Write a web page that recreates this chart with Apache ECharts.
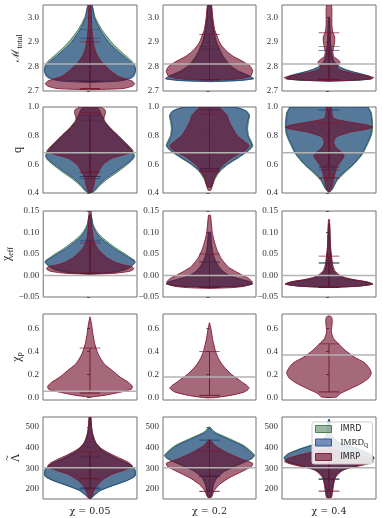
<!DOCTYPE html>
<html><head><meta charset="utf-8">
<script src="https://cdn.jsdelivr.net/npm/echarts@6/dist/echarts.min.js"></script>
<style>html,body{margin:0;padding:0;background:#fff}#c{width:382px;height:518px}</style>
</head><body><div id="c"></div><script>
// ---------- DATA ----------
const columns = ['χ = 0.05', 'χ = 0.2', 'χ = 0.4'];
const modelNames = ['IMRD', 'IMRD_Q', 'IMRP'];

const mtotTicks = [2.7, 2.8, 2.9, 3.0];
const qTicks = [0.4, 0.6, 0.8, 1.0];
const ceTicks = [-0.05, 0, 0.05, 0.10, 0.15];
const cpTicks = [0.0, 0.2, 0.4, 0.6];
const lamTicks = [200, 300, 400, 500];

const mtotInj = [2.81, 2.81, 2.81];
const qInj = [0.68, 0.68, 0.68];
const ceInj = [0.0, 0.0, 0.0];
const cpInj = [0.055, 0.18, 0.37];
const lamInj = [303, 303, 303];

// violin profiles: [value, relative half-width], one list per column
const mtotIMRD = [
  [[2.738,0],[2.745,0.6],[2.75,0.8],[2.76,0.9],[2.78,0.96],[2.8,0.96],[2.82,0.9],[2.85,0.72],[2.88,0.55],[2.9,0.45],[2.95,0.25],[3.0,0.11],[3.05,0.04]],
  [[2.74,0],[2.743,0.6],[2.75,0.93],[2.76,0.88],[2.78,0.64],[2.8,0.48],[2.82,0.38],[2.85,0.27],[2.9,0.15],[2.95,0.09],[3.0,0.05],[3.05,0.03]],
  [[2.74,0],[2.744,0.6],[2.75,0.9],[2.76,0.86],[2.77,0.68],[2.78,0.48],[2.79,0.32],[2.8,0.22],[2.82,0.11],[2.85,0.06],[2.9,0.03],[2.95,0.02],[3.0,0.01]]
];
const mtotIMRDQ = [
  [[2.735,0],[2.74,0.6],[2.75,0.85],[2.76,0.93],[2.78,0.97],[2.8,0.95],[2.82,0.85],[2.85,0.66],[2.88,0.49],[2.9,0.39],[2.95,0.21],[3.0,0.09],[3.05,0.04]],
  [[2.738,0],[2.742,0.6],[2.75,0.95],[2.76,0.86],[2.78,0.6],[2.8,0.45],[2.82,0.35],[2.85,0.25],[2.9,0.14],[2.95,0.08],[3.0,0.05],[3.05,0.03]],
  [[2.74,0],[2.744,0.6],[2.75,0.9],[2.76,0.85],[2.77,0.65],[2.78,0.45],[2.79,0.3],[2.8,0.2],[2.82,0.1],[2.85,0.05],[2.9,0.03],[2.95,0.02],[3.0,0.01]]
];
const mtotIMRP = [
  [[2.705,0],[2.71,0.7],[2.72,0.9],[2.73,0.95],[2.74,0.9],[2.75,0.75],[2.76,0.6],[2.78,0.45],[2.8,0.34],[2.82,0.24],[2.85,0.14],[2.88,0.09],[2.9,0.07],[2.95,0.04],[3.0,0.03],[3.05,0.02]],
  [[2.744,0],[2.748,0.55],[2.755,0.8],[2.76,0.88],[2.78,0.93],[2.8,0.88],[2.82,0.72],[2.84,0.52],[2.86,0.38],[2.88,0.28],[2.9,0.21],[2.93,0.15],[2.95,0.11],[3.0,0.07],[3.05,0.04]],
  [[2.742,0],[2.745,0.6],[2.75,0.92],[2.755,0.95],[2.76,0.85],[2.77,0.55],[2.78,0.32],[2.79,0.2],[2.8,0.18],[2.81,0.22],[2.82,0.23],[2.83,0.17],[2.84,0.1],[2.86,0.08],[2.88,0.1],[2.9,0.12],[2.92,0.12],[2.94,0.08],[2.97,0.06],[3.0,0.06],[3.05,0.05]]
];
const qIMRD = [
  [[0.4,0.03],[0.42,0.12],[0.45,0.2],[0.5,0.38],[0.55,0.6],[0.6,0.8],[0.63,0.9],[0.66,0.95],[0.7,0.88],[0.75,0.75],[0.8,0.6],[0.85,0.44],[0.9,0.32],[0.95,0.24],[0.98,0.2],[1.0,0.14]],
  [[0.44,0.04],[0.5,0.12],[0.55,0.22],[0.6,0.4],[0.65,0.64],[0.7,0.86],[0.73,0.93],[0.76,0.9],[0.8,0.84],[0.85,0.82],[0.9,0.84],[0.94,0.86],[0.97,0.8],[0.99,0.66],[1.0,0.5]],
  [[0.41,0.02],[0.43,0.08],[0.49,0.18],[0.54,0.33],[0.6,0.53],[0.67,0.71],[0.74,0.82],[0.81,0.91],[0.88,0.93],[0.96,0.9],[0.99,0.85],[1.0,0.8]]
];
const qIMRDQ = [
  [[0.4,0.02],[0.42,0.1],[0.45,0.17],[0.5,0.33],[0.55,0.55],[0.6,0.76],[0.63,0.88],[0.66,0.93],[0.7,0.86],[0.75,0.73],[0.8,0.58],[0.85,0.42],[0.9,0.3],[0.95,0.22],[0.98,0.18],[1.0,0.12]],
  [[0.45,0.05],[0.5,0.1],[0.55,0.2],[0.6,0.38],[0.65,0.62],[0.7,0.85],[0.73,0.92],[0.76,0.88],[0.8,0.82],[0.85,0.8],[0.9,0.82],[0.94,0.85],[0.97,0.8],[0.99,0.65],[1.0,0.5]],
  [[0.41,0.02],[0.43,0.07],[0.49,0.16],[0.54,0.3],[0.6,0.51],[0.67,0.69],[0.74,0.8],[0.81,0.89],[0.885,0.91],[0.957,0.89],[0.98,0.86],[1.0,0.83]]
];
const qIMRP = [
  [[0.4,0.02],[0.42,0.05],[0.45,0.08],[0.5,0.11],[0.55,0.18],[0.6,0.28],[0.64,0.45],[0.67,0.75],[0.69,0.92],[0.72,0.85],[0.76,0.72],[0.8,0.6],[0.84,0.47],[0.87,0.38],[0.9,0.3],[0.93,0.3],[0.96,0.33],[0.98,0.32],[0.995,0.25],[1.0,0.2]],
  [[0.42,0.03],[0.45,0.06],[0.5,0.1],[0.55,0.18],[0.6,0.3],[0.65,0.5],[0.7,0.78],[0.73,0.85],[0.76,0.75],[0.8,0.6],[0.85,0.5],[0.9,0.42],[0.94,0.38],[0.97,0.3],[1.0,0.2]],
  [[0.41,0.02],[0.44,0.06],[0.5,0.1],[0.55,0.14],[0.585,0.17],[0.62,0.25],[0.657,0.32],[0.68,0.28],[0.717,0.15],[0.753,0.1],[0.79,0.15],[0.825,0.45],[0.845,0.8],[0.86,0.93],[0.875,0.8],[0.897,0.4],[0.92,0.1],[0.957,0.06],[1.0,0.05]]
];
const ceIMRD = [
  [[0.003,0],[0.008,0.55],[0.015,0.8],[0.025,0.92],[0.03,0.96],[0.035,0.95],[0.04,0.88],[0.05,0.75],[0.06,0.6],[0.07,0.47],[0.08,0.35],[0.09,0.24],[0.1,0.16],[0.11,0.1],[0.12,0.06],[0.14,0.02]],
  [[-0.027,0],[-0.025,0.6],[-0.02,0.93],[-0.015,0.88],[-0.01,0.72],[-0.005,0.56],[0.0,0.43],[0.01,0.29],[0.02,0.21],[0.03,0.15],[0.04,0.11],[0.05,0.08],[0.06,0.06],[0.08,0.04],[0.1,0.02]],
  [[-0.027,0],[-0.025,0.6],[-0.02,0.93],[-0.015,0.8],[-0.01,0.5],[-0.005,0.3],[0.0,0.2],[0.01,0.1],[0.02,0.07],[0.04,0.05],[0.06,0.03],[0.09,0.02],[0.12,0.01]]
];
const ceIMRDQ = [
  [[0.003,0],[0.008,0.5],[0.015,0.75],[0.025,0.9],[0.03,0.95],[0.035,0.93],[0.04,0.85],[0.05,0.7],[0.06,0.55],[0.07,0.42],[0.08,0.3],[0.09,0.2],[0.1,0.13],[0.11,0.08],[0.12,0.05],[0.14,0.02]],
  [[-0.027,0],[-0.025,0.6],[-0.02,0.92],[-0.015,0.86],[-0.01,0.7],[-0.005,0.54],[0.0,0.41],[0.01,0.27],[0.02,0.19],[0.03,0.14],[0.04,0.1],[0.05,0.07],[0.06,0.05],[0.08,0.03],[0.1,0.02]],
  [[-0.027,0],[-0.025,0.6],[-0.02,0.92],[-0.015,0.78],[-0.01,0.48],[-0.005,0.28],[0.0,0.18],[0.01,0.09],[0.02,0.06],[0.04,0.04],[0.06,0.03],[0.09,0.02],[0.12,0.01]]
];
const ceIMRP = [
  [[0.003,0],[0.005,0.5],[0.01,0.85],[0.015,0.93],[0.02,0.9],[0.025,0.7],[0.03,0.55],[0.04,0.38],[0.05,0.27],[0.06,0.18],[0.07,0.12],[0.08,0.08],[0.09,0.06],[0.1,0.05],[0.12,0.03],[0.15,0.02]],
  [[-0.03,0],[-0.028,0.5],[-0.025,0.75],[-0.02,0.9],[-0.015,0.92],[-0.01,0.88],[-0.005,0.82],[0.0,0.72],[0.01,0.55],[0.02,0.4],[0.03,0.32],[0.04,0.25],[0.05,0.2],[0.06,0.16],[0.07,0.13],[0.08,0.1],[0.1,0.06],[0.12,0.04],[0.14,0.02]],
  [[-0.028,0],[-0.025,0.6],[-0.02,0.93],[-0.015,0.82],[-0.01,0.55],[-0.005,0.35],[0.0,0.24],[0.01,0.13],[0.02,0.09],[0.03,0.07],[0.05,0.05],[0.07,0.03],[0.1,0.02],[0.13,0.01]]
];
const cpIMRP = [
  [[0.003,0],[0.01,0.1],[0.02,0.3],[0.044,0.6],[0.073,0.88],[0.1,0.9],[0.132,0.82],[0.176,0.65],[0.234,0.48],[0.293,0.3],[0.38,0.17],[0.468,0.1],[0.556,0.06],[0.644,0.03],[0.7,0.0]],
  [[0.0,0.1],[0.02,0.45],[0.05,0.75],[0.08,0.85],[0.1,0.82],[0.15,0.65],[0.2,0.48],[0.25,0.35],[0.3,0.25],[0.35,0.18],[0.4,0.13],[0.45,0.1],[0.5,0.07],[0.55,0.05],[0.6,0.03],[0.65,0.0]],
  [[0.005,0.15],[0.038,0.25],[0.077,0.45],[0.127,0.7],[0.172,0.85],[0.216,0.9],[0.26,0.85],[0.305,0.75],[0.349,0.55],[0.408,0.35],[0.467,0.2],[0.51,0.1],[0.57,0.05],[0.62,0.06],[0.67,0.07],[0.7,0.05],[0.71,0]]
];
const lamIMRD = [
  [[155,0.02],[169,0.09],[192,0.22],[215,0.47],[239,0.77],[262,0.96],[293,0.96],[317,0.86],[348,0.57],[379,0.32],[410,0.16],[441,0.09],[472,0.05],[520,0.02],[545,0.01]],
  [[165,0.04],[177,0.05],[223,0.09],[254,0.16],[285,0.32],[317,0.63],[348,0.92],[363,0.97],[379,0.91],[410,0.74],[441,0.45],[472,0.14],[490,0.05],[500,0.01]],
  [[160,0.05],[177,0.05],[223,0.09],[270,0.16],[293,0.32],[317,0.67],[332,0.9],[351,0.96],[371,0.87],[394,0.62],[425,0.22],[460,0.06],[500,0.03],[535,0.01]]
];
const lamIMRDQ = [
  [[155,0.02],[169,0.08],[192,0.2],[215,0.45],[239,0.75],[262,0.95],[293,0.95],[317,0.85],[348,0.55],[379,0.3],[410,0.15],[441,0.08],[472,0.04],[520,0.02],[545,0.01]],
  [[160,0.03],[177,0.04],[223,0.08],[254,0.15],[285,0.3],[317,0.6],[348,0.9],[363,0.95],[379,0.88],[410,0.7],[441,0.4],[472,0.1],[485,0.04],[495,0.01]],
  [[160,0.04],[177,0.04],[223,0.08],[270,0.15],[293,0.3],[317,0.65],[332,0.88],[351,0.95],[371,0.85],[394,0.6],[425,0.2],[460,0.05],[500,0.03],[535,0.01]]
];
const lamIMRP = [
  [[155,0.01],[161,0.03],[177,0.06],[208,0.12],[239,0.24],[270,0.45],[293,0.75],[309,0.9],[324,0.85],[340,0.72],[363,0.5],[394,0.25],[425,0.12],[472,0.05],[510,0.03],[548,0.02]],
  [[161,0.04],[192,0.1],[223,0.22],[254,0.42],[285,0.7],[309,0.9],[324,0.93],[332,0.85],[348,0.65],[379,0.35],[410,0.12],[433,0.03],[440,0]],
  [[160,0.05],[192,0.08],[223,0.1],[254,0.13],[293,0.3],[317,0.75],[332,0.94],[345,0.9],[360,0.7],[371,0.5],[386,0.2],[395,0.05],[400,0]]
];

// credible-interval bars [low, high], one per column
const mtotBarsIMRD = [[2.74,2.95],[2.746,2.881],[2.747,2.881]];
const mtotBarsIMRDQ = [[2.74,2.915],[2.746,2.87],[2.747,2.865]];
const mtotBarsIMRP = [[2.71,2.9],[2.746,2.93],[2.747,2.937]];
const qBarsIMRD = [[0.5,0.907],[0.56,0.98],[0.561,0.98]];
const qBarsIMRDQ = [[0.515,0.94],[0.57,0.98],[0.582,0.978]];
const qBarsIMRP = [[0.545,0.96],[0.55,0.95],[0.505,0.888]];
const ceBarsIMRD = [[0.005,0.082],[-0.027,0.03],[-0.027,0.028]];
const ceBarsIMRDQ = [[0.005,0.08],[-0.027,0.032],[-0.027,0.03]];
const ceBarsIMRP = [[0.005,0.075],[-0.028,0.05],[-0.028,0.045]];
const cpBarsIMRP = [[0.04,0.43],[0.02,0.4],[0.05,0.467]];
const lamBarsIMRD = [[200,360],[262,438],[248,380]];
const lamBarsIMRDQ = [[205,355],[262,435],[248,375]];
const lamBarsIMRP = [[250,380],[189,382],[190,360]];

// ---------- LAYOUT / STYLE ----------
const SERIF = "'Liberation Serif','DejaVu Serif',serif";
const colLeft = [43, 163, 282], colWidth = [94, 93, 94];
const rowTop = [5, 107, 211, 314, 417], rowHeight = 86;
const styles = [
  {fill:'rgba(55,113,65,0.5)', stroke:'rgba(55,113,65,0.85)', line:'rgba(45,95,55,0.9)'},
  {fill:'rgba(40,80,150,0.6)', stroke:'rgba(35,75,135,0.9)', line:'rgba(25,55,100,0.9)'},
  {fill:'rgba(105,5,35,0.6)', stroke:'rgba(130,20,45,0.9)', line:'rgba(110,20,40,0.9)'}
];
const nameRich = {
  m:{fontFamily:SERIF, fontSize:12, color:'#222', lineHeight:15},
  c:{fontFamily:"'DejaVu Serif',serif", fontSize:11, color:'#222', lineHeight:15},
  s:{fontFamily:SERIF, fontSize:8, color:'#222', verticalAlign:'bottom'},
  t:{fontFamily:SERIF, fontSize:10, color:'#222', lineHeight:5, align:'center'},
  L:{fontFamily:SERIF, fontSize:12, color:'#222', lineHeight:12, align:'center'}
};
const rows = [
  {name:'{c|ℳ}{s|total}', min:2.7, max:3.05, ticks:mtotTicks, dec:1, inj:mtotInj,
   shapes:[mtotIMRD, mtotIMRDQ, mtotIMRP], bars:[mtotBarsIMRD, mtotBarsIMRDQ, mtotBarsIMRP]},
  {name:'{m|q}', min:0.4, max:1.0, ticks:qTicks, dec:1, inj:qInj,
   shapes:[qIMRD, qIMRDQ, qIMRP], bars:[qBarsIMRD, qBarsIMRDQ, qBarsIMRP]},
  {name:'{m|χ}{s|eff}', min:-0.05, max:0.15, ticks:ceTicks, dec:2, inj:ceInj,
   shapes:[ceIMRD, ceIMRDQ, ceIMRP], bars:[ceBarsIMRD, ceBarsIMRDQ, ceBarsIMRP]},
  {name:'{m|χ}{s|p}', min:-0.02, max:0.725, ticks:cpTicks, dec:1, inj:cpInj,
   shapes:[null, null, cpIMRP], bars:[null, null, cpBarsIMRP]},
  {name:'{t|~}\n{L|Λ}', min:152, max:548, ticks:lamTicks, dec:0, inj:lamInj,
   shapes:[lamIMRD, lamIMRDQ, lamIMRP], bars:[lamBarsIMRD, lamBarsIMRDQ, lamBarsIMRP]}
];

function fmt(dec){ return v => (v < -1e-9 ? '\u2212' : '') + Math.abs(v).toFixed(dec); }

function violinRenderer(shape, bar, st) {
  return function(params, api) {
    if (params.dataIndex !== 0) return null;
    const left = shape.map(p => api.coord([-p[1], p[0]]));
    const right = shape.slice().reverse().map(p => api.coord([p[1], p[0]]));
    const children = [{
      type:'polygon', shape:{points:left.concat(right), smooth:0.2},
      style:{fill:st.fill, stroke:st.stroke, lineWidth:1}
    }];
    const a = api.coord([0, bar[0]]), b = api.coord([0, bar[1]]);
    const bw = api.coord([0.22, bar[0]])[0] - a[0];
    const ls = {stroke:st.line, lineWidth:1};
    children.push({type:'line', shape:{x1:a[0], y1:a[1], x2:b[0], y2:b[1]}, style:ls});
    children.push({type:'line', shape:{x1:a[0]-bw, y1:a[1], x2:a[0]+bw, y2:a[1]}, style:ls});
    children.push({type:'line', shape:{x1:b[0]-bw, y1:b[1], x2:b[0]+bw, y2:b[1]}, style:{stroke:st.stroke, lineWidth:1, opacity:0.75}});
    return {type:'group', children};
  };
}

const grid = [], xAxis = [], yAxis = [], series = [];
rows.forEach((row, r) => {
  for (let c = 0; c < 3; c++) {
    const i = r * 3 + c;
    grid.push({left:colLeft[c], top:rowTop[r], width:colWidth[c], height:rowHeight,
      show:true, borderColor:'#707070', borderWidth:1, backgroundColor:'transparent'});
    const bottom = r === rows.length - 1;
    xAxis.push({gridIndex:i, type:'value', min:-1, max:1, show:bottom,
      axisLine:{show:false}, axisTick:{show:false}, axisLabel:{show:false}, splitLine:{show:false},
      name: bottom ? columns[c] : '', nameLocation:'middle', nameGap:8,
      nameTextStyle:{fontFamily:"'DejaVu Serif',serif", fontSize:9.5, color:'#222'}});
    yAxis.push({gridIndex:i, type:'value', min:row.min, max:row.max,
      axisLine:{show:false}, splitLine:{show:false},
      axisTick:{show:true, length:3, customValues:row.ticks, lineStyle:{color:'#555'}},
      axisLabel:{customValues:row.ticks, formatter:fmt(row.dec), fontFamily:SERIF, fontSize:9, color:'#333', margin:4},
      name: c === 0 ? row.name : '', nameLocation:'middle', nameRotate:90, nameGap:17,
      nameTextStyle:{rich:nameRich}});
    for (let m = 0; m < 3; m++) {
      const shape = row.shapes[m] && row.shapes[m][c];
      if (!shape) continue;
      const bar = row.bars[m][c];
      series.push({type:'custom', name:modelNames[m], xAxisIndex:i, yAxisIndex:i,
        clip:true, z:2 + m * 0.01, silent:true,
        itemStyle:{color:styles[m].fill},
        renderItem:violinRenderer(shape, bar, styles[m]),
        data:shape.map(p => [p[1], p[0]])});
    }
    series.push({type:'line', xAxisIndex:i, yAxisIndex:i, silent:true, showSymbol:false, z:5,
      lineStyle:{color:'#b3b3b3', width:1.5},
      data:[[-1, row.inj[c]], [1, row.inj[c]]]});
  }
});

const chart = echarts.init(document.getElementById('c'), null, {renderer:'canvas'});
chart.setOption({
  animation:false,
  grid, xAxis, yAxis, series,
  legend:{
    left:312, top:422, orient:'vertical', itemWidth:16, itemHeight:7, itemGap:5,
    padding:[3,4,3,3], backgroundColor:'rgba(255,255,255,0.85)', borderColor:'#cccccc', borderWidth:1, borderRadius:2,
    icon:'rect', z:20,
    data:modelNames.map((n, m) => ({name:n, itemStyle:{color:styles[m].fill, borderColor:styles[m].stroke, borderWidth:1}})),
    formatter: n => n === 'IMRD_Q' ? '{t|IMRD}{q|Q}' : '{a|' + n + '}',
    textStyle:{padding:[0,0,0,4], rich:{
      a:{fontFamily:"'DejaVu Sans',sans-serif", fontSize:8, color:'#222'},
      t:{fontFamily:SERIF, fontSize:9, color:'#222', lineHeight:11},
      q:{fontFamily:SERIF, fontSize:6, color:'#222', verticalAlign:'bottom'}
    }}
  }
});
</script></body></html>
